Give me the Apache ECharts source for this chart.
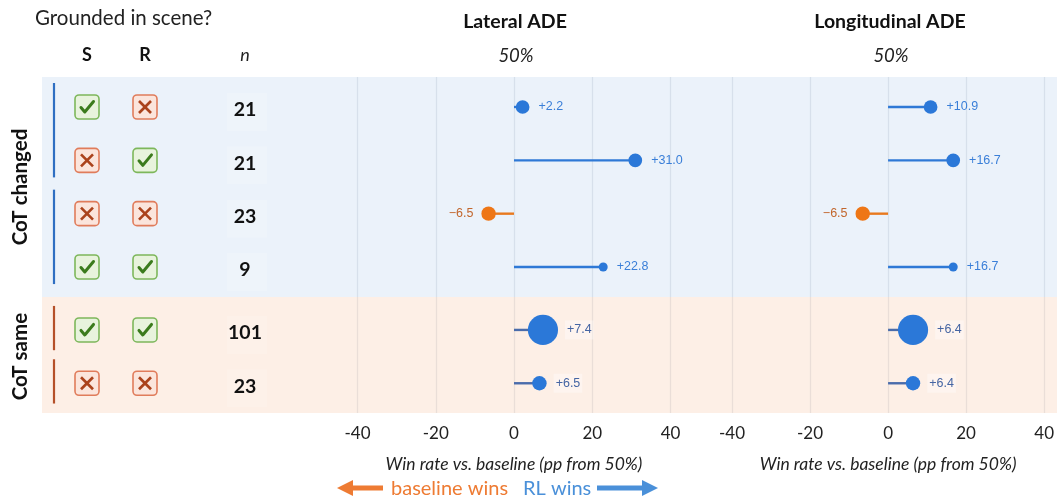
<!DOCTYPE html>
<html><head><meta charset="utf-8">
<script src="https://cdn.jsdelivr.net/npm/echarts@6/dist/echarts.min.js"></script>
<style>html,body{margin:0;padding:0;background:#fff}#c{width:1057px;height:500px}</style>
</head><body><div id="c"></div>
<script>
// ---------- data ----------
const groups       = ['CoT changed','CoT changed','CoT changed','CoT changed','CoT same','CoT same'];
const sceneS       = [true, false, false, true, true, false];
const sceneR       = [false, true, false, true, true, false];
const nCount       = [21, 21, 23, 9, 101, 23];
const lateral      = [2.2, 31.0, -6.5, 22.8, 7.4, 6.5];
const longitudinal = [10.9, 16.7, -6.5, 16.7, 6.4, 6.4];
const xTicks       = [-40, -20, 0, 20, 40];
const panelTitles  = ['Lateral ADE', 'Longitudinal ADE'];
const groupNames   = ['CoT changed', 'CoT same'];
const bracketRows  = [[0,1],[2,3],[4,4],[5,5]];
const axisTitle    = 'Win rate vs. baseline (pp from 50%)';

// ---------- layout ----------
const FONT = 'Lato';
const GAP = 0.18;
const rowY = groups.map((g,i) => i + (g === 'CoT same' ? GAP : 0));
const Y_MIN = -0.5625, Y_MAX = 5.7375, BAND_SPLIT = 3.5625;
const GRID_TOP = 77, GRID_BOTTOM = 87;
const COL_S = 87, COL_R = 145, COL_N = 245, BRACKET_X = 54, GROUP_LABEL_X = 20;

const blueDot = '#2b78d8', orangeDot = '#ee7616';

function yAxis(idx){ return {type:'value', gridIndex:idx, min:Y_MIN, max:Y_MAX, inverse:true, show:false}; }
function xAxisPanel(idx){
  return {type:'value', gridIndex:idx, min:xTicks[0], max:xTicks[xTicks.length-1], interval:xTicks[1]-xTicks[0],
    axisLine:{show:false}, axisTick:{show:false},
    splitLine:{show:true, lineStyle:{color:'#d6dae0', width:1.3}},
    axisLabel:{show:true, margin:12, fontFamily:FONT, fontSize:17, color:'#222'},
    name:axisTitle, nameLocation:'middle', nameGap:42,
    nameTextStyle:{fontFamily:FONT, fontSize:17.5, fontStyle:'italic', color:'#222'}};
}

function icon(cx, cy, ok){
  const box = {type:'rect', shape:{x:cx-12, y:cy-12, width:24, height:24, r:4},
    style:{fill: ok ? '#e8f3dd' : '#fbe5dc', stroke: ok ? '#7db75b' : '#e07c5b', lineWidth:1.6}};
  let mark;
  if (ok) {
    mark = {type:'polyline', shape:{points:[[cx-6,cy+0.5],[cx-2.2,cy+5],[cx+6.5,cy-5.5]]},
      style:{fill:null, stroke:'#3b7b1d', lineWidth:3, lineJoin:'round', lineCap:'round'}};
  } else {
    mark = {type:'group', children:[
      {type:'line', shape:{x1:cx-6,y1:cy-6,x2:cx+6,y2:cy+6}, style:{stroke:'#ab431c', lineWidth:2.6}},
      {type:'line', shape:{x1:cx+6,y1:cy-6,x2:cx-6,y2:cy+6}, style:{stroke:'#ab431c', lineWidth:2.6}}
    ]};
  }
  return {type:'group', children:[box, mark]};
}

function renderTable(params, api){
  const i = api.value(0);
  const y = api.value(1);
  const p = api.coord([0, y]);
  const cy = p[1];
  return {type:'group', children:[
    {type:'rect', shape:{x:COL_N-18, y:cy-14, width:40, height:38}, style:{fill:'rgba(255,255,255,0.15)'}},
    icon(COL_S, cy, sceneS[i]),
    icon(COL_R, cy, sceneR[i]),
    {type:'text', x:COL_N, y:cy+3, style:{text:String(nCount[i]), align:'center', verticalAlign:'middle',
      font:'bold 19.5px ' + FONT, fill:'#111'}}
  ]};
}

function renderBrackets(params, api){
  const r0 = api.value(0), r1 = api.value(1);
  const same = groups[r0] === 'CoT same';
  const top = api.coord([BRACKET_X, rowY[r0] - 0.45]);
  const bot = api.coord([BRACKET_X, rowY[r1] + (r1 === r0 ? 0.38 : 0.32)]);
  return {type:'line', shape:{x1:top[0], y1:top[1], x2:bot[0], y2:bot[1]},
    style:{stroke: same ? '#b5502a' : '#2f6fc2', lineWidth:2.2}};
}

function renderGroupLabel(params, api){
  const g = groupNames[api.value(0)];
  const rows = rowY.filter((_, i) => groups[i] === g);
  const mid = (rows[0] + rows[rows.length-1]) / 2;
  const p = api.coord([GROUP_LABEL_X, mid]);
  return {type:'text', x:p[0], y:p[1], rotation:Math.PI/2,
    style:{text:g, align:'center', verticalAlign:'middle', font:'bold 20.5px ' + FONT, fill:'#111'}};
}

function renderLollipop(params, api){
  const v = api.value(0), y = api.value(1), n = api.value(2), i = api.value(3);
  const same = groups[i] === 'CoT same';
  const p0 = api.coord([0, y]), p1 = api.coord([v, y]);
  const neg = v < 0;
  const r = 1.5 * Math.sqrt(n);
  const stem = neg ? '#e8791e' : (same ? '#4a6cab' : '#2f79d6');
  const lab = neg ? '#c2662c' : (same ? '#4565a3' : '#3a7fd8');
  const txt = (neg ? '\u2212' : '+') + Math.abs(v).toFixed(1);
  return {type:'group', children:[
    {type:'line', shape:{x1:p0[0], y1:p0[1], x2:p1[0], y2:p1[1]}, style:{stroke:stem, lineWidth:2.4}},
    {type:'circle', shape:{cx:p1[0], cy:p1[1], r:r}, style:{fill: neg ? orangeDot : blueDot}},
    {type:'text', x: p1[0] + (neg ? -(r + 6) : (r + 7)), y: p1[1],
      style:{text:txt, align: neg ? 'right' : 'left', verticalAlign:'middle',
        font:'12.5px "Liberation Sans"', fill:lab,
        backgroundColor: same ? 'rgba(255,255,255,0.35)' : 'transparent', padding:[3,2]}}
  ]};
}

const rowIdx = groups.map((_, i) => i);
function lollipopData(vals){ return vals.map((v,i) => [v, rowY[i], nCount[i], i]); }

function zeroLine(gridIdx){
  return {type:'scatter', xAxisIndex:gridIdx, yAxisIndex:gridIdx, data:[], z:1, silent:true,
    markLine:{symbol:'none', silent:true, animation:false, label:{show:false},
      lineStyle:{color:'#b4bcc8', width:2, type:'solid'},
      data:[[{coord:[0, Y_MIN - 0.13]}, {coord:[0, Y_MAX]}]]}};
}

const chart = echarts.init(document.getElementById('c'), null, {renderer:'canvas'});
chart.setOption({
  animation:false,
  backgroundColor:'#fff',
  textStyle:{fontFamily:FONT},
  grid:[
    {left:0, right:0, top:GRID_TOP, bottom:GRID_BOTTOM},
    {left:357.5, right:386.5, top:GRID_TOP, bottom:GRID_BOTTOM},
    {left:732, right:11, top:GRID_TOP, bottom:GRID_BOTTOM}
  ],
  xAxis:[
    {type:'value', gridIndex:0, min:0, max:1057, show:false},
    xAxisPanel(1), xAxisPanel(2)
  ],
  yAxis:[yAxis(0), yAxis(1), yAxis(2)],
  graphic:[
    {type:'text', x:35, y:18, style:{text:'Grounded in scene?', verticalAlign:'middle', font:'20.5px ' + FONT, fill:'#222'}},
    {type:'text', x:COL_S, y:55, style:{text:'S', align:'center', verticalAlign:'middle', font:'bold 18px ' + FONT, fill:'#111'}},
    {type:'text', x:COL_R, y:55, style:{text:'R', align:'center', verticalAlign:'middle', font:'bold 18px ' + FONT, fill:'#111'}},
    {type:'text', x:COL_N, y:55, style:{text:'n', align:'center', verticalAlign:'middle', font:'italic 18px ' + FONT, fill:'#222'}},
    {type:'text', x:515, y:22, style:{text:panelTitles[0], align:'center', verticalAlign:'middle', font:'bold 19.5px ' + FONT, fill:'#111'}},
    {type:'text', x:890, y:22, style:{text:panelTitles[1], align:'center', verticalAlign:'middle', font:'bold 19.5px ' + FONT, fill:'#111'}},
    {type:'text', x:516, y:56, style:{text:'50%', align:'center', verticalAlign:'middle', font:'italic 18.5px ' + FONT, fill:'#222'}},
    {type:'text', x:891, y:56, style:{text:'50%', align:'center', verticalAlign:'middle', font:'italic 18.5px ' + FONT, fill:'#222'}},
    // direction legend
    {type:'polygon', shape:{points:[[337,488],[353,480],[353,485.5],[383,485.5],[383,490.5],[353,490.5],[353,496]]}, style:{fill:'#ee7b33'}},
    {type:'text', x:391, y:489, style:{text:'baseline wins', align:'left', verticalAlign:'middle', font:'20px ' + FONT, fill:'#ee7b33'}},
    {type:'text', x:523, y:489, style:{text:'RL wins', align:'left', verticalAlign:'middle', font:'20px ' + FONT, fill:'#4a90d9'}},
    {type:'polygon', shape:{points:[[658,488],[642,480],[642,485.5],[597,485.5],[597,490.5],[642,490.5],[642,496]]}, style:{fill:'#4a90d9'}}
  ],
  series:[
    zeroLine(1), zeroLine(2),
    {type:'scatter', xAxisIndex:0, yAxisIndex:0, data:[], z:2, silent:true,
      markArea:{silent:true, label:{show:false}, data:[
        [{coord:[42, Y_MIN], itemStyle:{color:'rgba(216,229,246,0.5)'}}, {coord:[1057, BAND_SPLIT]}],
        [{coord:[42, BAND_SPLIT], itemStyle:{color:'rgba(251,226,210,0.55)'}}, {coord:[1057, Y_MAX]}]
      ]}},
    {type:'custom', xAxisIndex:0, yAxisIndex:0, z:5, clip:false, silent:true,
      renderItem:renderBrackets, data:bracketRows},
    {type:'custom', xAxisIndex:0, yAxisIndex:0, z:5, clip:false, silent:true,
      renderItem:renderGroupLabel, data:groupNames.map((_, i) => [i])},
    {type:'custom', xAxisIndex:0, yAxisIndex:0, z:5, clip:false, silent:true,
      renderItem:renderTable, data:rowIdx.map(i => [i, rowY[i]])},
    {type:'custom', xAxisIndex:1, yAxisIndex:1, z:6, clip:false, silent:true,
      renderItem:renderLollipop, data:lollipopData(lateral)},
    {type:'custom', xAxisIndex:2, yAxisIndex:2, z:6, clip:false, silent:true,
      renderItem:renderLollipop, data:lollipopData(longitudinal)}
  ]
});
</script></body></html>
